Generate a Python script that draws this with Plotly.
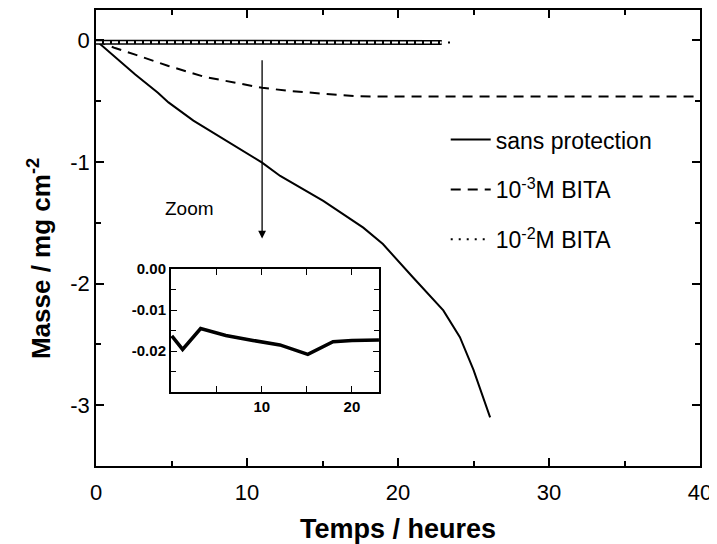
import plotly.graph_objects as go

# ---- data ----
t_sans = [0, 2.6, 4.1, 4.8, 6.45, 8.8, 11.0, 12.2, 15.05, 17.7, 19.0, 21.0, 23.0, 24.1, 25.0, 26.1]
m_sans = [0, -0.28, -0.43, -0.51, -0.66, -0.84, -1.005, -1.115, -1.32, -1.54, -1.675, -1.95, -2.22, -2.44, -2.71, -3.10]

t_e3 = [0, 1.26, 2.6, 4.8, 7.2, 11.0, 13.0, 14.2, 17.3, 20, 25, 30, 35, 40]
m_e3 = [0, -0.063, -0.117, -0.21, -0.30, -0.39, -0.418, -0.43, -0.46, -0.462, -0.462, -0.462, -0.462, -0.462]

t_e2 = [0, 5, 10, 15, 20, 22.9, 23.66]
m_e2 = [-0.015, -0.015, -0.017, -0.019, -0.018, -0.017, -0.017]
t_e2_tube = [0, 5, 10, 15, 20, 22.9]
m_e2_tube = [-0.015, -0.015, -0.017, -0.019, -0.018, -0.017]

t_zoom = [0, 1.2, 3.2, 6, 9, 12, 15.1, 17.9, 20, 23]
m_zoom = [-0.0163, -0.0196, -0.0145, -0.0162, -0.0174, -0.0185, -0.0208, -0.0177, -0.0174, -0.0173]

names = ["sans protection", "10<sup>-3</sup>M BITA", "10<sup>-2</sup>M BITA"]

x_tickvals = [0, 10, 20, 30, 40]
x_ticktext = ["0", "10", "20", "30", "40"]
y_tickvals = [0, -1, -2, -3]
y_ticktext = ["0", "-1", "-2", "-3"]
ins_x_tickvals = [10, 20]
ins_x_ticktext = ["<b>10</b>", "<b>20</b>"]
ins_y_tickvals = [0, -0.01, -0.02]
ins_y_ticktext = ["<b>0.00</b>", "<b>-0.01</b>", "<b>-0.02</b>"]

arrow_x = 11
arrow_y0, arrow_y1 = -0.15, -1.63

FONT = "Liberation Sans, Arial, sans-serif"

fig = go.Figure()

fig.add_trace(go.Scatter(x=t_sans, y=m_sans, mode="lines", name=names[0],
                         line=dict(color="black", width=2), legendgroup="a"))
fig.add_trace(go.Scatter(x=t_e3, y=m_e3, mode="lines", name=names[1],
                         line=dict(color="black", width=2, dash="10px,7px"), legendgroup="b"))
fig.add_trace(go.Scatter(x=t_e2, y=m_e2, mode="lines", name=names[2],
                         line=dict(color="black", width=2, dash="2px,6px"), legendgroup="c"))
fig.add_trace(go.Scatter(x=t_e2_tube, y=m_e2_tube, mode="lines", showlegend=False,
                         line=dict(color="black", width=5), hoverinfo="skip"))
fig.add_trace(go.Scatter(x=t_e2_tube, y=m_e2_tube, mode="lines", showlegend=False,
                         line=dict(color="white", width=2, dash="6px,2px"), hoverinfo="skip"))

fig.add_trace(go.Scatter(x=t_zoom, y=m_zoom, mode="lines", showlegend=False,
                         line=dict(color="black", width=3.5), xaxis="x2", yaxis="y2"))

axis_common = dict(showline=True, linecolor="black", linewidth=1.8, mirror="ticks",
                   ticks="inside", tickcolor="black", showgrid=False, zeroline=False,
                   automargin=False)

# The page body has an 8px default margin, so the figure is sized to fit the window.
fig.update_layout(
    width=709, height=536,
    margin=dict(l=88, r=17, t=2, b=78),
    paper_bgcolor="white", plot_bgcolor="white",
    font=dict(family=FONT, color="black", size=22),
    xaxis=dict(range=[0, 40], tickvals=x_tickvals, ticktext=x_ticktext, ticklen=8, tickwidth=1.5,
               minor=dict(dtick=5, ticklen=5, tickcolor="black", ticks="inside", tick0=0),
               title=dict(text="<b>Temps / heures</b>", font=dict(size=27), standoff=18),
               tickfont=dict(size=22), ticklabelstandoff=6, **axis_common),
    yaxis=dict(range=[-3.5, 0.25], tickvals=y_tickvals, ticktext=y_ticktext, ticklen=8, tickwidth=1.5,
               minor=dict(dtick=0.5, ticklen=5, tickcolor="black", ticks="inside", tick0=0),
               tickfont=dict(size=22), **axis_common),
    xaxis2=dict(domain=[0.124, 0.4685], anchor="y2", range=[-0.1, 23],
                tickvals=ins_x_tickvals, ticktext=ins_x_ticktext, ticklen=6,
                minor=dict(dtick=5, ticklen=6, tickcolor="black", ticks="inside", tick0=0),
                tickfont=dict(size=15), **axis_common),
    yaxis2=dict(domain=[0.162, 0.432], anchor="x2", range=[-0.03, 0.0],
                tickvals=ins_y_tickvals, ticktext=ins_y_ticktext, ticklen=6,
                minor=dict(dtick=0.005, ticklen=5, tickcolor="black", ticks="inside", tick0=0),
                tickfont=dict(size=15), **axis_common),
    legend=dict(x=0.579, y=0.763, xanchor="left", yanchor="top", bgcolor="rgba(0,0,0,0)",
                font=dict(size=23), tracegroupgap=17, itemwidth=40),
    shapes=[dict(type="rect", xref="x2 domain", yref="y2 domain", x0=0, x1=1, y0=0, y1=1,
                 fillcolor="#cdcdcd", line=dict(width=0), layer="below")],
    annotations=[
        dict(x=arrow_x, y=arrow_y1, ax=arrow_x, ay=arrow_y0, xref="x", yref="y",
             axref="x", ayref="y", showarrow=True, arrowhead=2, arrowsize=1.2,
             arrowwidth=1.3, arrowcolor="black", text=""),
        dict(x=6.2, y=-1.385, xref="x", yref="y", text="Zoom", showarrow=False,
             font=dict(size=19)),
        dict(x=-0.0944, y=0.456, xref="paper", yref="paper", textangle=-90,
             text="<b>Masse / mg cm<sup>-2</sup></b>", showarrow=False,
             xanchor="center", yanchor="middle", font=dict(size=26)),
    ],
)

fig.write_html("out.html")
